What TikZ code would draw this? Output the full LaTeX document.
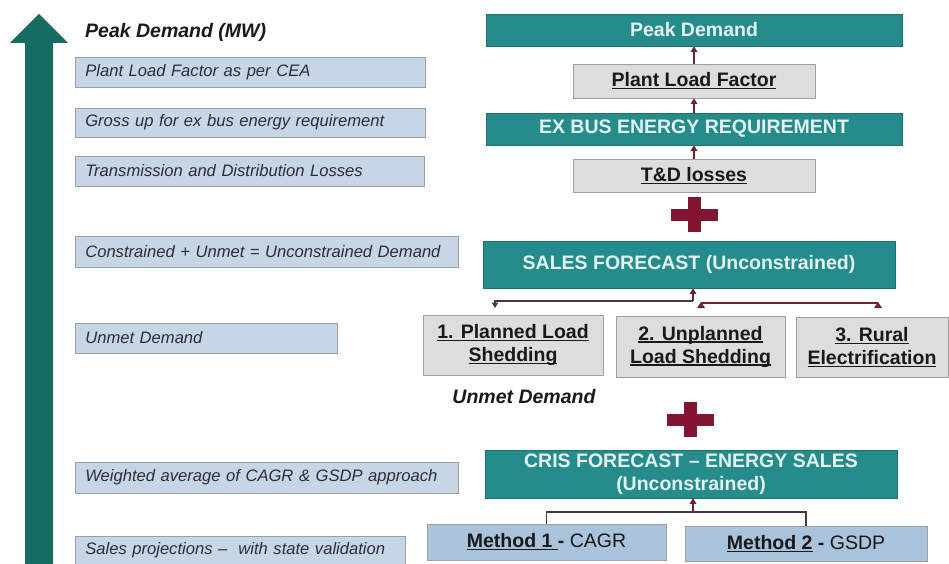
\documentclass[tikz,border=0pt]{standalone}
\usepackage{fontspec}
\setmainfont{Liberation Sans}
\usetikzlibrary{arrows.meta}
\definecolor{teal1}{RGB}{38,140,139}
\definecolor{arrowteal}{RGB}{22,108,96}
\definecolor{grayfill}{RGB}{221,221,221}
\definecolor{grayedge}{RGB}{160,160,160}
\definecolor{lblfill}{RGB}{198,214,229}
\definecolor{lbledge}{RGB}{150,160,172}
\definecolor{methfill}{RGB}{170,195,220}
\definecolor{crossc}{RGB}{130,22,50}
\definecolor{connc}{RGB}{110,35,50}
\definecolor{conndark}{RGB}{75,55,62}
\definecolor{lbltext}{RGB}{45,45,55}
\definecolor{tealtext}{RGB}{228,242,242}
\definecolor{boxtext}{RGB}{25,25,25}
\newcommand\myul[1]{\leavevmode\setbox0=\hbox{#1}\rlap{\rule[-2.8pt]{\wd0}{1.4pt}}\box0\relax}
\begin{document}
\begin{tikzpicture}[x=1pt,y=-1pt,
 tealbox/.style={fill=teal1, draw=teal1!80!black, line width=0.6pt, text=tealtext,
   font=\bfseries\fontsize{19.5}{23}\selectfont, inner sep=0pt, align=center},
 graybox/.style={fill=grayfill, draw=grayedge, line width=0.8pt, text=boxtext,
   font=\bfseries\fontsize{19.5}{23}\selectfont, inner sep=0pt, align=center},
 methbox/.style={fill=methfill, draw=grayedge, line width=0.8pt, text=boxtext,
   font=\fontsize{19.5}{23}\selectfont, inner sep=0pt, align=center},
 lblbox/.style={fill=lblfill, draw=lbledge, line width=0.6pt, text=lbltext,
   font=\itshape\fontsize{16.6}{20}\selectfont, anchor=west, inner xsep=10pt,
   inner ysep=0pt, align=left},
 headtxt/.style={font=\bfseries\itshape\fontsize{19.5}{23}\selectfont, text=boxtext, inner sep=0pt},
 conn/.style={draw=connc, line width=1.8pt},
 conngray/.style={draw=conndark, line width=1.8pt},
 tip/.style={-{Triangle[width=6.5pt,length=5.5pt]}}
]
\useasboundingbox (0,0) rectangle (949,564);

% big upward arrow
\fill[arrowteal] (25,564) -- (25,43) -- (10,43) -- (39,14) -- (68,43) -- (53,43) -- (53,564) -- cycle;

% left side
\node[headtxt, anchor=west] (pdmw) at (85,32) {Peak Demand (MW)};
\node[lblbox, text width=330pt, minimum height=30pt] (l1) at (75,72) {Plant Load Factor as per CEA};
\node[lblbox, text width=330pt, minimum height=29pt] (l2) at (75,122.5) {Gross up for ex bus energy requirement};
\node[lblbox, text width=329pt, minimum height=30pt] (l3) at (75,171) {Transmission and Distribution Losses};
\node[lblbox, text width=363pt, minimum height=31pt] (l4) at (75,251.5) {\mbox{Constrained + Unmet = Unconstrained Demand}};
\node[lblbox, text width=242pt, minimum height=30pt] (l5) at (75,338) {Unmet Demand};
\node[lblbox, text width=363pt, minimum height=31pt] (l6) at (75,477.5) {\mbox{Weighted average of CAGR \& GSDP approach}};
\node[lblbox, text width=310pt, minimum height=28pt] (l7) at (75,550) {Sales projections –\ \ with state validation};

% right side
\node[tealbox, minimum width=416pt, minimum height=32pt] (pd) at (694,30) {Peak Demand};
\node[graybox, minimum width=242pt, minimum height=34pt] (plf) at (694,81) {\myul{Plant Load Factor}};
\node[tealbox, minimum width=416pt, minimum height=32pt] (exb) at (694,129) {EX BUS ENERGY REQUIREMENT};
\node[graybox, minimum width=242pt, minimum height=33pt] (td) at (694,175.5) {\myul{T\&D losses}};
\node[tealbox, minimum width=412pt, minimum height=47pt] (sf) at (689,264.5) {SALES FORECAST (Unconstrained)};
\node[graybox, minimum width=180pt, minimum height=60pt] (b1) at (513,345) {\myul{1. Planned Load}\\\myul{Shedding}};
\node[graybox, minimum width=169pt, minimum height=61pt] (b2) at (700.5,346.5) {\myul{2. Unplanned}\\\myul{Load Shedding}};
\node[graybox, minimum width=152pt, minimum height=60pt] (b3) at (872,347) {\myul{3. Rural}\\\myul{Electrification}};
\node[headtxt] (ud) at (524,397) {Unmet Demand};
\node[tealbox, minimum width=412pt, minimum height=48pt] (cris) at (691,474) {CRIS FORECAST – ENERGY SALES\\(Unconstrained)};
\node[methbox, minimum width=239pt, minimum height=36pt] (m1) at (546.5,542) {{\bfseries\myul{Method 1 }- }CAGR};
\node[methbox, minimum width=242pt, minimum height=35pt] (m2) at (806,543.5) {{\bfseries\myul{Method 2} - }GSDP};

% plus signs
\fill[crossc] (671,208.5) rectangle (718,220.5);
\fill[crossc] (688,197) rectangle (701,232);
\fill[crossc] (666.5,413.5) rectangle (713.5,425.5);
\fill[crossc] (683.5,402) rectangle (696.5,437);

% vertical arrows in the top stack
\draw[conn, tip] (plf.north) -- (plf.north |- pd.south);
\draw[conn, tip] (exb.north) -- (exb.north |- plf.south);
\draw[conn, tip] (td.north) -- (td.north |- exb.south);

% sales forecast branch
\coordinate (j1) at (693,301);
\coordinate (lend) at (495,301);
\coordinate (ldown) at (495,308);
\draw[conngray, tip] (j1) -- (lend) -- (ldown);
\draw[conn, tip] (j1) -- (j1 |- sf.south);
\coordinate (r1) at (701,303);
\coordinate (r2) at (878,303);
\draw[conn] (r1) -- (r2);
\fill[connc] ([xshift=-4pt,yshift=-5pt]r1) -- ([yshift=1pt]r1) -- ([xshift=4pt,yshift=-5pt]r1) -- cycle;
\fill[connc] ([xshift=-4pt,yshift=-5pt]r2) -- ([yshift=1pt]r2) -- ([xshift=4pt,yshift=-5pt]r2) -- cycle;

% CRIS branch
\coordinate (j3) at (693,512);
\draw[conngray] (m1.north) -- (m1.north |- j3) -- (m2.north |- j3) -- (m2.north);
\draw[conn, tip] (j3) -- (j3 |- cris.south);
\end{tikzpicture}
\end{document}
